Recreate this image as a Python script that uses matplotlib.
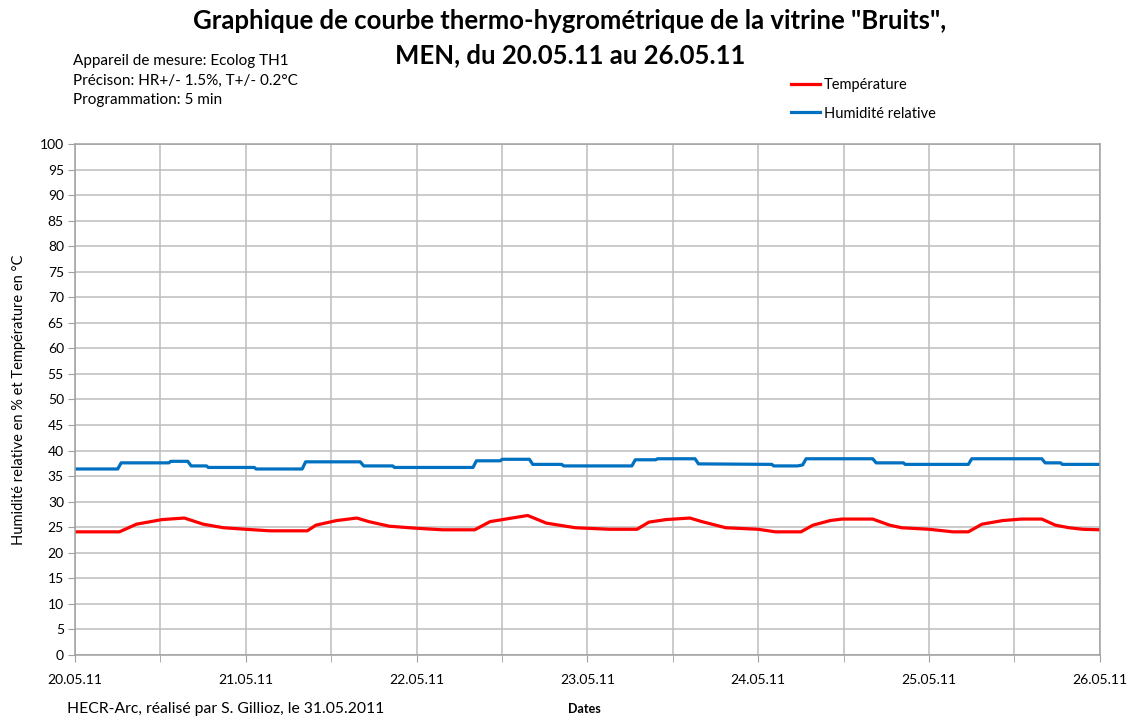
import numpy as np
import matplotlib
matplotlib.use("Agg")
from matplotlib import pyplot as plt
from matplotlib.ticker import MultipleLocator

plt.rcParams['font.family'] = ['Lato', 'DejaVu Sans']

# time in days after 20.05.11 00:00
hum_t = [0, 0.25, 0.27, 0.55, 0.56, 0.66, 0.68, 0.77, 0.78, 1.05, 1.06, 1.33, 1.35,
         1.67, 1.69, 1.86, 1.87, 2.33, 2.35, 2.49, 2.50, 2.66, 2.68, 2.85, 2.86,
         3.26, 3.28, 3.40, 3.41, 3.63, 3.65, 4.08, 4.09, 4.23, 4.26, 4.28, 4.67,
         4.69, 4.85, 4.86, 5.23, 5.25, 5.66, 5.68, 5.77, 5.78, 6.0]
hum_v = [36.4, 36.4, 37.6, 37.6, 37.9, 37.9, 37.0, 37.0, 36.7, 36.7, 36.4, 36.4, 37.8,
         37.8, 37.0, 37.0, 36.7, 36.7, 38.0, 38.0, 38.3, 38.3, 37.3, 37.3, 37.0,
         37.0, 38.2, 38.2, 38.4, 38.4, 37.4, 37.3, 37.0, 37.0, 37.2, 38.4, 38.4,
         37.6, 37.6, 37.3, 37.3, 38.4, 38.4, 37.6, 37.6, 37.3, 37.3]

temp_t = [0, 0.26, 0.36, 0.51, 0.64, 0.75, 0.87, 1.0, 1.14, 1.36, 1.41, 1.53, 1.65,
          1.72, 1.84, 2.0, 2.15, 2.34, 2.43, 2.54, 2.65, 2.76, 2.93, 3.13, 3.29,
          3.36, 3.46, 3.60, 3.67, 3.81, 4.0, 4.10, 4.25, 4.32, 4.42, 4.49, 4.67,
          4.77, 4.84, 5.0, 5.14, 5.23, 5.31, 5.43, 5.54, 5.66, 5.74, 5.82, 5.90, 6.0]
temp_v = [24.1, 24.1, 25.6, 26.5, 26.8, 25.6, 24.9, 24.6, 24.3, 24.3, 25.4, 26.3, 26.8,
          26.1, 25.2, 24.8, 24.5, 24.5, 26.1, 26.7, 27.3, 25.8, 24.9, 24.6, 24.6,
          26.0, 26.5, 26.8, 26.1, 24.9, 24.6, 24.1, 24.1, 25.4, 26.3, 26.6, 26.6,
          25.4, 24.9, 24.6, 24.1, 24.1, 25.6, 26.3, 26.6, 26.6, 25.4, 24.9, 24.6, 24.5]

day_labels = ["20.05.11", "21.05.11", "22.05.11", "23.05.11", "24.05.11", "25.05.11", "26.05.11"]

grid_c = '#bdbdbd'
fig = plt.figure(figsize=(11.4, 7.2), dpi=100)
ax = fig.add_axes([0.0658, 0.0903, 0.899, 0.7097])

ax.plot(temp_t, temp_v, color='#ff0000', lw=2.3, label='Température')
ax.plot(hum_t, hum_v, color='#0070c0', lw=2.3, label='Humidité relative')

ax.set_xlim(0, 6)
ax.set_ylim(0, 100)
ax.set_xticks(range(7))
ax.set_xticklabels(day_labels)
ax.xaxis.set_minor_locator(MultipleLocator(0.5))
ax.yaxis.set_major_locator(MultipleLocator(5))
ax.grid(True, which='both', color=grid_c, lw=1.1)
ax.set_axisbelow(True)
for s in ax.spines.values():
    s.set_color('#a0a0a0')
    s.set_linewidth(1.1)
ax.tick_params(axis='x', which='both', length=5, color='#a0a0a0', labelsize=10, pad=9)
ax.tick_params(axis='y', length=5, color='#a0a0a0', labelsize=10, pad=3)

ax.set_ylabel("Humidité relative en % et Température en °C", fontsize=10.5, labelpad=10)

fig.text(0.5, 0.971, 'Graphique de courbe thermo-hygrométrique de la vitrine "Bruits",',
         ha='center', va='center', fontsize=18.5, fontweight='bold')
fig.text(0.5, 0.923, 'MEN, du 20.05.11 au 26.05.11',
         ha='center', va='center', fontsize=18.5, fontweight='bold')
fig.text(0.064, 0.888, "Appareil de mesure: Ecolog TH1\nPrécison: HR+/- 1.5%, T+/- 0.2°C\nProgrammation: 5 min",
         ha='left', va='center', fontsize=11, linespacing=1.5)
fig.text(0.059, 0.015, "HECR-Arc, réalisé par S. Gillioz, le 31.05.2011",
         ha='left', va='center', fontsize=11.3)
fig.text(0.513, 0.015, "Dates", ha='center', va='center', fontsize=9, fontweight='bold')

fig.legend(loc='upper left', bbox_to_anchor=(0.682, 0.91), frameon=False,
           fontsize=10.5, handlelength=2.0, handletextpad=0.3, labelspacing=1.0)

fig.savefig('out.png', dpi=100)
